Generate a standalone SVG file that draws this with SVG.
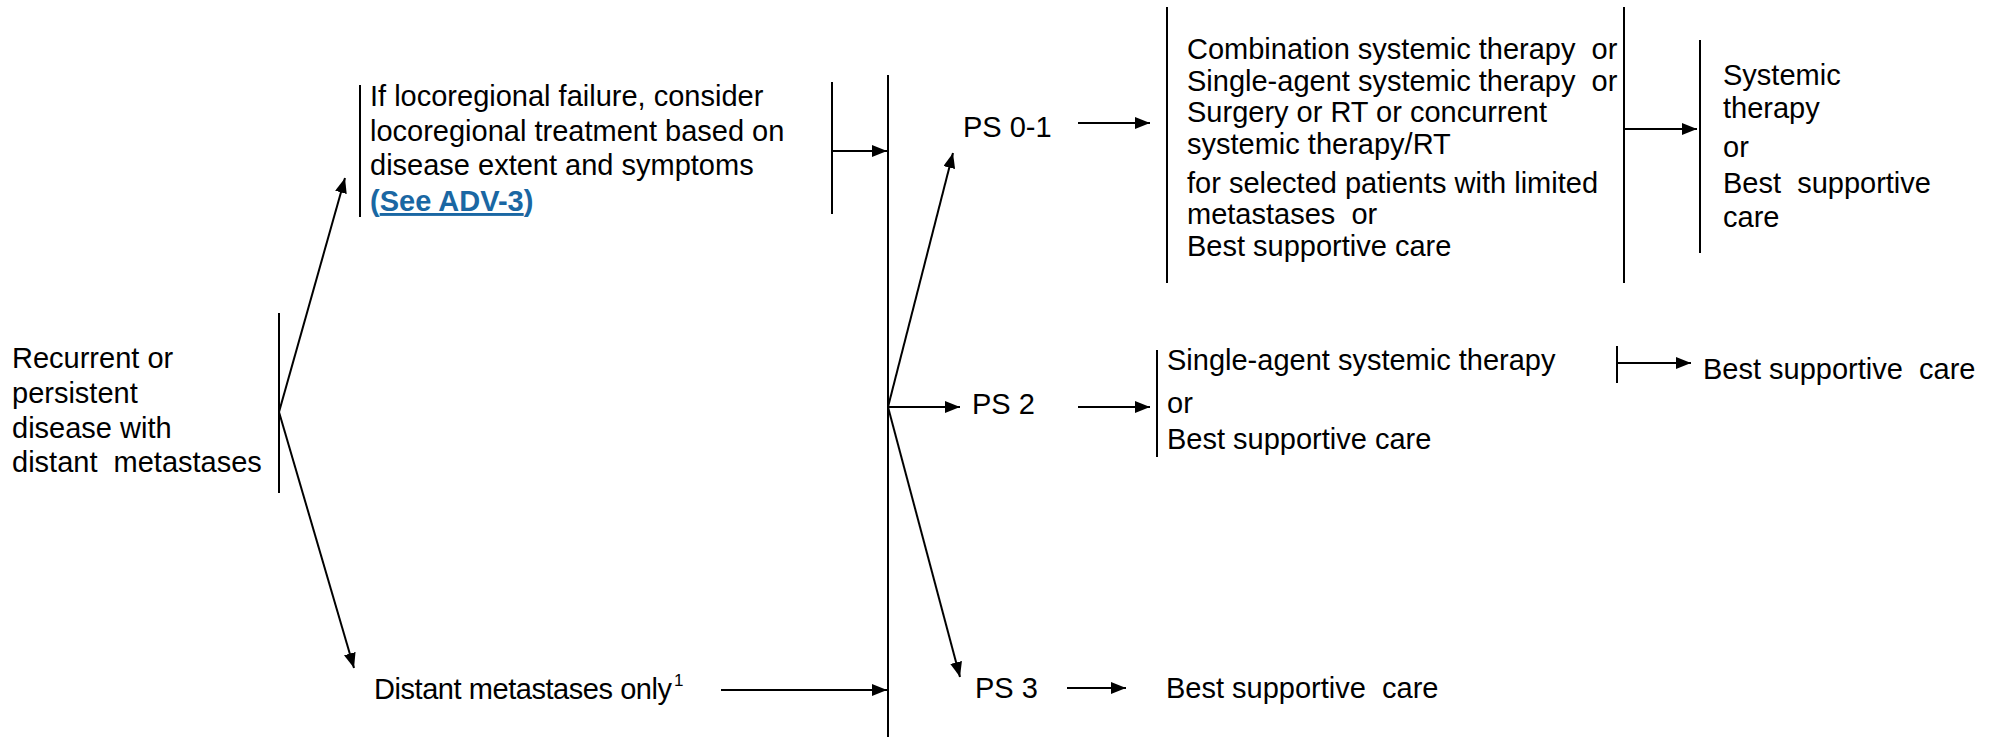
<svg xmlns="http://www.w3.org/2000/svg" width="2003" height="738" viewBox="0 0 2003 738">
<defs>
<marker id="ah" markerUnits="userSpaceOnUse" markerWidth="16" markerHeight="12" refX="15" refY="6" orient="auto">
<path d="M0,0 L15,6 L0,12 z" fill="#000"/>
</marker>
<style>
text{font-family:"Liberation Sans",Arial,Helvetica,sans-serif;font-size:29px;fill:#000;white-space:pre}
.bar{stroke:#000;stroke-width:2;fill:none}
.arr{stroke:#000;stroke-width:2;fill:none;marker-end:url(#ah)}
.link{font-weight:bold;fill:#1a67a3}
.u{text-decoration:underline}
.sup{font-size:17px}
</style>
</defs>
<rect width="2003" height="738" fill="#fff"/>

<g id="recurrent">
<line class="bar" x1="279" y1="313" x2="279" y2="493"/>
<text x="12" y="368">Recurrent or</text>
<text x="12" y="403">persistent</text>
<text x="12" y="438">disease with</text>
<text x="12" y="472">distant  metastases</text>
</g>

<g id="locoregional">
<line class="bar" x1="360" y1="85" x2="360" y2="217"/>
<line class="bar" x1="832" y1="82" x2="832" y2="214"/>
<text x="370" y="106">If locoregional failure, consider</text>
<text x="370" y="141">locoregional treatment based on</text>
<text x="370" y="175">disease extent and symptoms</text>
<text x="370" y="211" class="link">(<tspan class="u">See ADV-3</tspan>)</text>
</g>

<g id="distant">
<text x="374" y="699" textLength="298" lengthAdjust="spacing">Distant metastases only</text>
<text x="674" y="686" class="sup">1</text>
</g>

<g id="ps-split">
<line class="bar" x1="888" y1="75" x2="888" y2="737"/>
</g>

<g id="ps01"><text x="963" y="137">PS 0-1</text></g>
<g id="ps2"><text x="972" y="414">PS 2</text></g>
<g id="ps3"><text x="975" y="698">PS 3</text></g>

<g id="ps01-options">
<line class="bar" x1="1167" y1="7" x2="1167" y2="283"/>
<line class="bar" x1="1624" y1="7" x2="1624" y2="283"/>
<text x="1187" y="59">Combination systemic therapy  or</text>
<text x="1187" y="91">Single-agent systemic therapy  or</text>
<text x="1187" y="122">Surgery or RT or concurrent</text>
<text x="1187" y="154">systemic therapy/RT</text>
<text x="1187" y="193">for selected patients with limited</text>
<text x="1187" y="224">metastases  or</text>
<text x="1187" y="256">Best supportive care</text>
</g>

<g id="ps01-next">
<line class="bar" x1="1700" y1="40" x2="1700" y2="253"/>
<text x="1723" y="85">Systemic</text>
<text x="1723" y="118">therapy</text>
<text x="1723" y="157">or</text>
<text x="1723" y="193">Best  supportive</text>
<text x="1723" y="227">care</text>
</g>

<g id="ps2-options">
<line class="bar" x1="1157" y1="350" x2="1157" y2="457"/>
<text x="1167" y="370">Single-agent systemic therapy</text>
<text x="1167" y="413">or</text>
<text x="1167" y="449">Best supportive care</text>
</g>

<g id="ps2-next">
<line class="bar" x1="1617" y1="346" x2="1617" y2="383"/>
<text x="1703" y="379">Best supportive  care</text>
</g>

<g id="ps3-next">
<text x="1166" y="698">Best supportive  care</text>
</g>

<g id="connectors">
<line class="arr" x1="279" y1="412" x2="345" y2="178"/>
<line class="arr" x1="279" y1="412" x2="354" y2="668"/>
<line class="arr" x1="832" y1="151" x2="887" y2="151"/>
<line class="arr" x1="721" y1="690" x2="887" y2="690"/>
<line class="arr" x1="888" y1="407" x2="953" y2="153"/>
<line class="arr" x1="888" y1="407" x2="960" y2="407"/>
<line class="arr" x1="888" y1="407" x2="960" y2="677"/>
<line class="arr" x1="1078" y1="123" x2="1150" y2="123"/>
<line class="arr" x1="1078" y1="407" x2="1150" y2="407"/>
<line class="arr" x1="1067" y1="688" x2="1126" y2="688"/>
<line class="arr" x1="1624" y1="129" x2="1697" y2="129"/>
<line class="arr" x1="1617" y1="363" x2="1691" y2="363"/>
</g>
</svg>
